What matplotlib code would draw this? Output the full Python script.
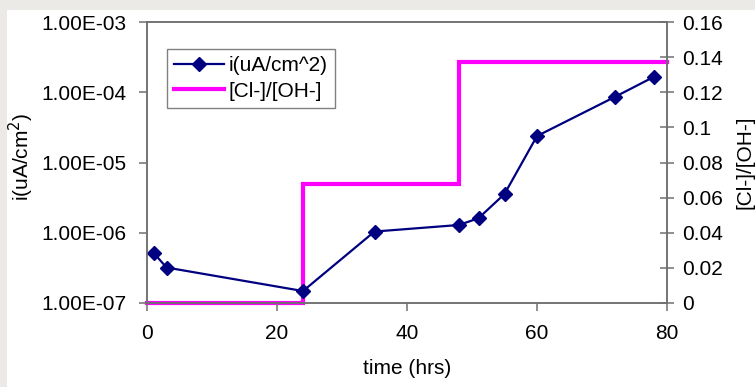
import matplotlib
matplotlib.use("Agg")
import matplotlib.pyplot as plt
from matplotlib.patches import Rectangle
from matplotlib.lines import Line2D
from matplotlib.ticker import FixedLocator, FixedFormatter

plt.rcParams['font.family'] = ['Liberation Sans', 'DejaVu Sans']

# Corrosion current density over time
time_hrs = [1, 3, 24, 35, 48, 51, 55, 60, 72, 78]
current = [5.2e-7, 3.2e-7, 1.48e-7, 1.04e-6, 1.29e-6, 1.61e-6, 3.56e-6, 2.38e-5, 8.6e-5, 1.66e-4]

# Chloride-to-hydroxide ratio steps
ratio_time = [0, 24, 48, 80]
ratio_vals = [0.0, 0.068, 0.137, 0.137]

left_ticks = [1e-7, 1e-6, 1e-5, 1e-4, 1e-3]
left_labels = ["1.00E-07", "1.00E-06", "1.00E-05", "1.00E-04", "1.00E-03"]
right_ticks = [0, 0.02, 0.04, 0.06, 0.08, 0.1, 0.12, 0.14, 0.16]
right_labels = ["0", "0.02", "0.04", "0.06", "0.08", "0.1", "0.12", "0.14", "0.16"]
x_ticks = [0, 20, 40, 60, 80]

W, H = 755, 387
fig = plt.figure(figsize=(W / 100, H / 100), dpi=100, facecolor='white')

# light frame strips along the top and left edges
frame = '#EBEAE6'
fig.patches.append(Rectangle((0, (H - 10) / H), 1, 10 / H, transform=fig.transFigure,
                             facecolor=frame, edgecolor='none', zorder=0))
fig.patches.append(Rectangle((0, 0), 7 / W, 1, transform=fig.transFigure,
                             facecolor=frame, edgecolor='none', zorder=0))

x0, x1 = 147, 667
y_top, y_bot = 22, 303
ax = fig.add_axes([x0 / W, (H - y_bot) / H, (x1 - x0) / W, (y_bot - y_top) / H])
ax2 = ax.twinx()

fs = 15
spine_c = '#707070'
navy = '#000080'
magenta = '#FF00FF'

# ratio line (secondary axis)
ax2.plot(ratio_time, ratio_vals, drawstyle='steps-post', color=magenta, lw=3,
         clip_on=False, solid_joinstyle='miter')
ax2.set_ylim(0, 0.16)
ax2.yaxis.set_major_locator(FixedLocator(right_ticks))
ax2.yaxis.set_major_formatter(FixedFormatter(right_labels))
ax2.tick_params(axis='y', direction='inout', length=10, width=1.1, color=spine_c,
                labelsize=fs, pad=6)

# current density line (primary log axis), drawn above the ratio line
ax.set_zorder(ax2.get_zorder() + 1)
ax.patch.set_visible(False)
ax.plot(time_hrs, current, color=navy, lw=1.6, marker='D', ms=7.5,
        markerfacecolor=navy, markeredgecolor=navy, clip_on=False)
ax.set_yscale('log')
ax.set_ylim(1e-7, 1e-3)
ax.yaxis.set_major_locator(FixedLocator(left_ticks))
ax.yaxis.set_major_formatter(FixedFormatter(left_labels))
ax.yaxis.set_minor_locator(FixedLocator([]))
ax.set_xlim(0, 80)
ax.set_xticks(x_ticks)
ax.tick_params(axis='both', direction='out', length=6, width=1.1, color=spine_c,
               labelsize=fs, pad=9)

for a in (ax, ax2):
    for s in a.spines.values():
        s.set_color(spine_c)
        s.set_linewidth(1.1)

ax.set_xlabel("time (hrs)", fontsize=fs, labelpad=12)
fig.text(21 / W, 1 - 157 / H, "i(uA/cm$^2$)", rotation=90, ha='center', va='center',
         fontsize=fs)
fig.text(745 / W, 1 - 162 / H, "[Cl-]/[OH-]", rotation=90, ha='center', va='center',
         fontsize=fs)

handles = [
    Line2D([], [], color=navy, lw=1.6, marker='D', ms=7.5),
    Line2D([], [], color=magenta, lw=3),
]
leg = ax.legend(handles, ["i(uA/cm^2)", "[Cl-]/[OH-]"], loc='upper left',
                bbox_to_anchor=((167 - x0) / (x1 - x0), 1 - (49 - y_top) / (y_bot - y_top)),
                fontsize=fs, frameon=True, fancybox=False, framealpha=1,
                edgecolor='#808080', handlelength=2.4, handletextpad=0.2,
                borderpad=0.35, labelspacing=0.3, borderaxespad=0)
leg.get_frame().set_linewidth(1.0)

fig.savefig("out.png", dpi=100, facecolor='white')
